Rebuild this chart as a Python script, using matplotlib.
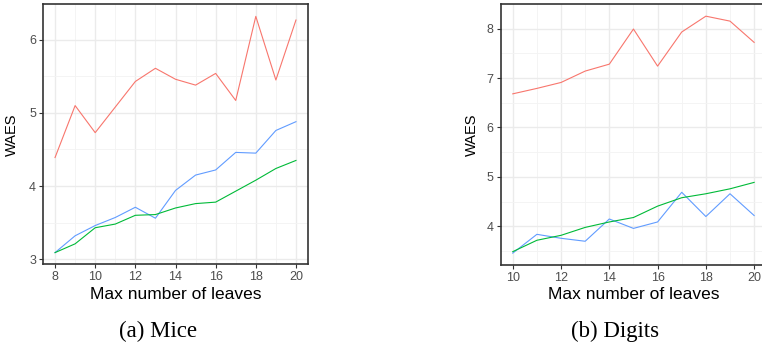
import numpy as np
import matplotlib
matplotlib.use("Agg")
import matplotlib.pyplot as plt

# Mice panel
mice_leaves = [8, 9, 10, 11, 12, 13, 14, 15, 16, 17, 18, 19, 20]
mice_red = [4.39, 5.10, 4.73, 5.08, 5.43, 5.61, 5.46, 5.38, 5.54, 5.17, 6.32, 5.45, 6.27]
mice_blue = [3.09, 3.32, 3.46, 3.57, 3.71, 3.56, 3.94, 4.15, 4.22, 4.46, 4.45, 4.76, 4.88]
mice_green = [3.09, 3.21, 3.43, 3.48, 3.60, 3.61, 3.70, 3.76, 3.78, 3.93, 4.08, 4.24, 4.35]

# Digits panel
digits_leaves = [10, 11, 12, 13, 14, 15, 16, 17, 18, 19, 20]
digits_red = [6.68, 6.79, 6.91, 7.14, 7.28, 7.99, 7.24, 7.93, 8.25, 8.15, 7.72]
digits_blue = [3.46, 3.84, 3.76, 3.70, 4.15, 3.96, 4.09, 4.69, 4.20, 4.66, 4.22]
digits_green = [3.49, 3.72, 3.82, 3.98, 4.09, 4.18, 4.41, 4.58, 4.66, 4.76, 4.89]

RED, BLUE, GREEN = "#F8766D", "#619CFF", "#00BA38"

plt.rcParams['font.family'] = ['Liberation Sans', 'DejaVu Sans']

fig = plt.figure(figsize=(7.62, 3.44), dpi=100)


def style(ax, xlim, ylim, xticks, yticks, xminor, yminor, ylab_x, xlab_y):
    ax.set_xlim(*xlim)
    ax.set_ylim(*ylim)
    ax.set_xticks(xticks)
    ax.set_yticks(yticks)
    ax.set_xticks(xminor, minor=True)
    ax.set_yticks(yminor, minor=True)
    ax.grid(which="major", color="#EBEBEB", linewidth=1.0)
    ax.grid(which="minor", color="#F3F3F3", linewidth=0.6)
    ax.set_axisbelow(True)
    for s in ax.spines.values():
        s.set_color("#333333")
        s.set_linewidth(1.2)
    ax.tick_params(which="major", direction="out", length=3, width=0.8,
                   color="#333333", labelcolor="#4D4D4D", labelsize=9, pad=2)
    ax.tick_params(which="minor", length=0)
    ax.set_ylabel("WAES", fontsize=10.5, color="black", va="center")
    ax.set_xlabel("Max number of leaves", fontsize=12.5, color="black", va="center")
    ax.yaxis.set_label_coords(ylab_x, 0.5)
    ax.xaxis.set_label_coords(0.5, xlab_y)


ax1 = fig.add_axes([43 / 762, 1 - 264.3 / 344, 265 / 762, 260 / 344])
ax1.plot(mice_leaves, mice_red, color=RED, lw=0.8)
ax1.plot(mice_leaves, mice_blue, color=BLUE, lw=0.8)
ax1.plot(mice_leaves, mice_green, color=GREEN, lw=0.8)
style(ax1, (7.4, 20.6), (2.93, 6.485), [8, 10, 12, 14, 16, 18, 20], [3, 4, 5, 6],
      [9, 11, 13, 15, 17, 19], [3.5, 4.5, 5.5], -0.116, -0.118)

ax2 = fig.add_axes([500.7 / 762, 1 - 265 / 344, 265.5 / 762, 260.7 / 344])
ax2.plot(digits_leaves, digits_red, color=RED, lw=0.8)
ax2.plot(digits_leaves, digits_blue, color=BLUE, lw=0.8)
ax2.plot(digits_leaves, digits_green, color=GREEN, lw=0.8)
style(ax2, (9.5, 20.5), (3.22, 8.49), [10, 12, 14, 16, 18, 20], [4, 5, 6, 7, 8],
      [11, 13, 15, 17, 19], [3.5, 4.5, 5.5, 6.5, 7.5], -0.108, -0.115)

fig.text(158 / 762, 1 - 331 / 344, "(a) Mice", ha="center", va="center",
         fontsize=16.5, family="Liberation Serif")
fig.text(615 / 762, 1 - 331 / 344, "(b) Digits", ha="center", va="center",
         fontsize=16.5, family="Liberation Serif")

fig.savefig("out.png", dpi=100)
